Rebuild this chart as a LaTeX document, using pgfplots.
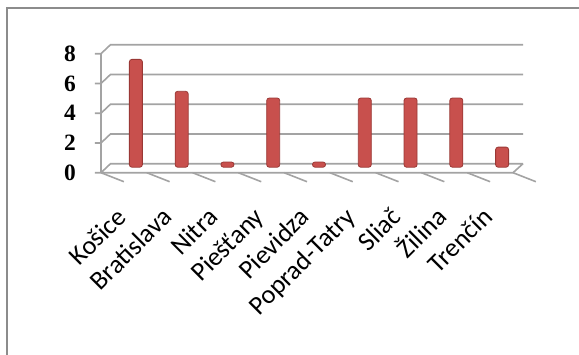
\documentclass[border=0pt]{standalone}
\usepackage{fontspec}
\setmainfont{Carlito}
\newfontfamily\tnr{Liberation Serif}
\usepackage{pgfplots}
\pgfplotsset{compat=1.18}
\definecolor{barred}{HTML}{C8504D}
\definecolor{baredge}{HTML}{9A3835}
\definecolor{gridgray}{HTML}{A3A3A3}
\definecolor{framegray}{HTML}{8C8C8C}
\begin{document}
\begin{tikzpicture}[x=1bp,y=1bp]
\path[use as bounding box] (-101,-181.3) rectangle (478,172.7);
\begin{scope}
\clip (-101,-181.3) rectangle (478,172.7);
\draw[framegray, line width=1.3bp] (-94,164.7) rectangle (500,-220);
\end{scope}
\begin{axis}[
  at={(0,0)}, anchor=south west,
  scale only axis, width=412bp, height=119bp,
  xmin=-0.5, xmax=8.5, ymin=0, ymax=8,
  axis line style={draw=none},
  major tick length=0pt,
  tick style={draw=none},
  /pgf/number format/assume math mode=true,
  ytick={0,2,4,6,8},
  xtick={0,1,2,3,4,5,6,7,8},
  xticklabels={Košice,Bratislava,Nitra,Piešťany,Pievidza,Poprad-Tatry,Sliač,Žilina,Trenčín},
  yticklabel style={font=\tnr\bfseries\fontsize{23.5}{23.5}\selectfont, inner sep=0pt, xshift=-25bp},
  xticklabel style={font=\fontsize{26.5}{26.5}\selectfont, xshift=4bp, yshift=-46bp, rotate=45, anchor=base east, inner sep=0pt},
  clip=false,
]
% back wall grid lines and left wall
\draw[gridgray, line width=1.6bp]
  ([xshift=-6bp]axis cs:-0.5,2) -- (axis cs:-0.5,2) -- ([xshift=9.5bp,yshift=9bp]axis cs:-0.5,2) -- ([xshift=10bp,yshift=9bp]axis cs:8.5,2)
  ([xshift=-6bp]axis cs:-0.5,4) -- (axis cs:-0.5,4) -- ([xshift=9.5bp,yshift=9bp]axis cs:-0.5,4) -- ([xshift=10bp,yshift=9bp]axis cs:8.5,4)
  ([xshift=-6bp]axis cs:-0.5,6) -- (axis cs:-0.5,6) -- ([xshift=9.5bp,yshift=9bp]axis cs:-0.5,6) -- ([xshift=10bp,yshift=9bp]axis cs:8.5,6)
  ([xshift=-6bp]axis cs:-0.5,8) -- (axis cs:-0.5,8) -- ([xshift=9.5bp,yshift=9bp]axis cs:-0.5,8) -- ([xshift=10bp,yshift=9bp]axis cs:8.5,8)
  ([xshift=-6bp]axis cs:-0.5,0) -- (axis cs:-0.5,0) -- ([xshift=9.5bp,yshift=9bp]axis cs:-0.5,0) -- ([xshift=10bp,yshift=9bp]axis cs:8.5,0)
  (axis cs:-0.5,0) -- (axis cs:-0.5,8)
  (axis cs:-0.5,0) -- (axis cs:8.5,0) -- ([xshift=10bp,yshift=9bp]axis cs:8.5,0);
% category tick marks
\draw[gridgray, line width=1.6bp]
  (axis cs:-0.5,0) -- ++(0,-9bp) (axis cs:0.5,0) -- ++(0,-9bp)
  (axis cs:1.5,0) -- ++(0,-9bp) (axis cs:2.5,0) -- ++(0,-9bp)
  (axis cs:3.5,0) -- ++(0,-9bp) (axis cs:4.5,0) -- ++(0,-9bp)
  (axis cs:5.5,0) -- ++(0,-9bp) (axis cs:6.5,0) -- ++(0,-9bp)
  (axis cs:7.5,0) -- ++(0,-9bp) (axis cs:8.5,0) -- ++(0,-9bp);
\addplot[ybar, bar width=13bp, bar shift=0pt, xshift=12bp, yshift=5.5bp,
  draw=baredge, line width=0.8bp, fill=barred, rounded corners=2.5bp]
  coordinates {(0,7.25) (1,5.1) (2,0.35) (3,4.65) (4,0.35) (5,4.65) (6,4.65) (7,4.65) (8,1.35)};
\end{axis}
\end{tikzpicture}
\end{document}
